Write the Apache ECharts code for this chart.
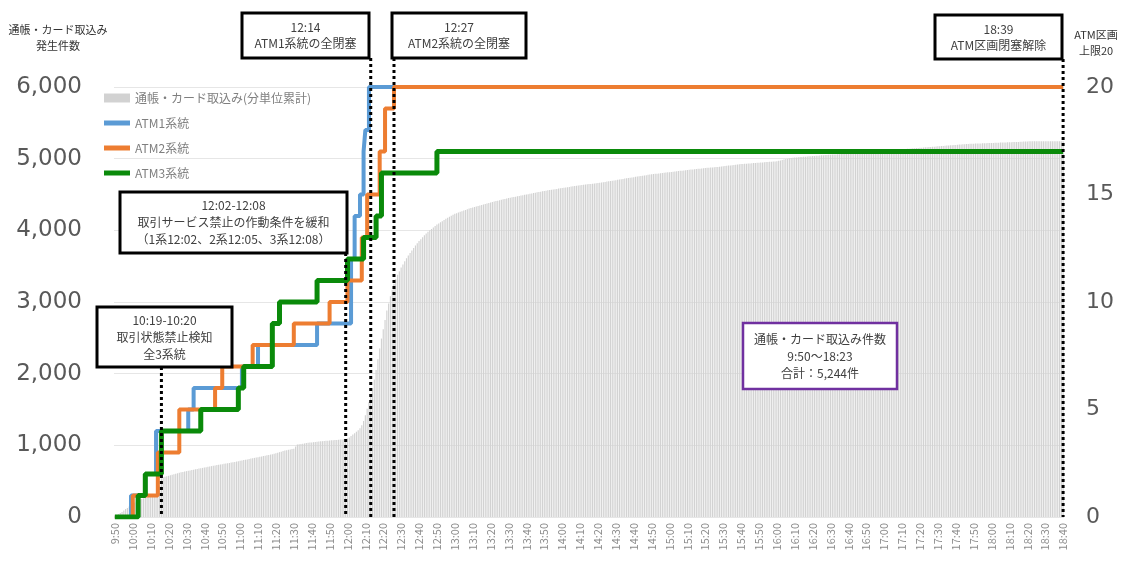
<!DOCTYPE html>
<html><head><meta charset="utf-8">
<script src="https://cdn.jsdelivr.net/npm/echarts@6/dist/echarts.min.js"></script>
<style>html,body{margin:0;padding:0;background:#fff}#c{width:1128px;height:562px}</style>
</head><body><div id="c"></div>
<script>
// ---- data ----
// category labels: one per minute from 9:50 to 18:40
const startMinute = 9 * 60 + 50, endMinute = 18 * 60 + 40;
const categories = [];
for (let t = startMinute; t <= endMinute; t++) categories.push(Math.floor(t / 60) + ':' + String(t % 60).padStart(2, '0'));

// cumulative count of passbook/card retentions per minute
const cumulativeCount = [
  10, 25, 40, 55, 70, 90, 110, 125, 145, 165,
  185, 200, 215, 225, 240, 250, 260, 268, 275, 280,
  285, 295, 305, 320, 350, 430, 540, 555, 562, 568,
  575, 582, 590, 596, 602, 610, 617, 623, 628, 634,
  640, 645, 650, 656, 661, 666, 671, 676, 681, 685,
  690, 695, 700, 705, 710, 714, 719, 724, 728, 733,
  737, 742, 746, 751, 755, 760, 764, 769, 774, 779,
  784, 789, 794, 799, 804, 810, 815, 820, 825, 830,
  835, 840, 845, 851, 856, 861, 866, 871, 877, 884,
  890, 897, 905, 912, 920, 927, 933, 938, 943, 948,
  953, 985, 1010, 1015, 1019, 1023, 1027, 1031, 1035, 1038,
  1041, 1044, 1047, 1050, 1053, 1056, 1058, 1061, 1063, 1065,
  1067, 1070, 1072, 1074, 1076, 1078, 1080, 1082, 1084, 1087,
  1095, 1110, 1130, 1150, 1170, 1190, 1210, 1240, 1280, 1340,
  1420, 1510, 1600, 1700, 1800, 1920, 2050, 2200, 2350, 2490,
  2620, 2750, 2880, 2980, 3080, 3170, 3250, 3320, 3380, 3430,
  3480, 3525, 3570, 3610, 3650, 3685, 3720, 3755, 3790, 3820,
  3850, 3877, 3903, 3930, 3955, 3980, 4000, 4020, 4040, 4060,
  4080, 4096, 4112, 4128, 4144, 4160, 4174, 4188, 4202, 4216,
  4230, 4240, 4249, 4258, 4267, 4276, 4285, 4294, 4303, 4312,
  4320, 4327, 4334, 4341, 4348, 4355, 4362, 4369, 4376, 4383,
  4390, 4396, 4402, 4408, 4414, 4420, 4426, 4432, 4438, 4444,
  4450, 4455, 4460, 4465, 4470, 4475, 4480, 4485, 4490, 4495,
  4500, 4505, 4510, 4515, 4520, 4525, 4530, 4535, 4540, 4545,
  4550, 4554, 4558, 4562, 4566, 4570, 4574, 4578, 4582, 4586,
  4590, 4594, 4598, 4602, 4606, 4610, 4614, 4618, 4622, 4626,
  4630, 4633, 4636, 4639, 4642, 4645, 4648, 4651, 4654, 4657,
  4660, 4664, 4668, 4672, 4676, 4680, 4684, 4688, 4692, 4696,
  4700, 4705, 4710, 4714, 4718, 4722, 4726, 4730, 4734, 4738,
  4742, 4746, 4750, 4754, 4758, 4762, 4766, 4770, 4774, 4778,
  4782, 4785, 4788, 4791, 4794, 4797, 4800, 4803, 4806, 4809,
  4812, 4815, 4818, 4821, 4824, 4827, 4830, 4833, 4836, 4839,
  4842, 4845, 4848, 4850, 4852, 4855, 4858, 4861, 4864, 4867,
  4870, 4872, 4874, 4876, 4878, 4880, 4882, 4885, 4888, 4891,
  4894, 4897, 4900, 4903, 4906, 4909, 4912, 4915, 4918, 4921,
  4924, 4926, 4928, 4930, 4932, 4934, 4936, 4938, 4940, 4942,
  4944, 4946, 4948, 4950, 4952, 4954, 4956, 4958, 4960, 4962,
  4964, 4970, 4976, 4982, 4988, 4994, 5000, 5005, 5010, 5013,
  5016, 5018, 5020, 5022, 5024, 5026, 5028, 5030, 5032, 5034,
  5036, 5038, 5040, 5042, 5044, 5046, 5048, 5050, 5052, 5054,
  5056, 5057, 5058, 5059, 5060, 5062, 5064, 5066, 5068, 5070,
  5072, 5074, 5076, 5078, 5080, 5082, 5084, 5086, 5088, 5090,
  5092, 5094, 5096, 5098, 5100, 5102, 5104, 5106, 5108, 5110,
  5112, 5114, 5116, 5118, 5120, 5122, 5124, 5126, 5128, 5130,
  5132, 5134, 5136, 5138, 5140, 5142, 5144, 5146, 5148, 5150,
  5152, 5154, 5156, 5158, 5160, 5162, 5164, 5166, 5168, 5170,
  5172, 5174, 5176, 5178, 5180, 5182, 5184, 5186, 5188, 5190,
  5192, 5194, 5196, 5198, 5200, 5202, 5204, 5206, 5207, 5208,
  5209, 5210, 5211, 5212, 5213, 5214, 5215, 5216, 5217, 5218,
  5219, 5220, 5221, 5222, 5223, 5224, 5225, 5226, 5227, 5228,
  5229, 5230, 5231, 5232, 5233, 5234, 5235, 5236, 5238, 5240,
  5241, 5242, 5243, 5244, 5244, 5244, 5244, 5244, 5244, 5244,
  5244, 5244, 5244, 5244, 5244, 5244, 5244, 5244, 5244, 5244,
  5244
];

// number of blocked ATM sections per system (change points, held until next point)
const atm1Steps = [['9:50',0],['9:59',1],['10:07',2],['10:13',4],['10:31',5],['10:34',6],['11:01',7],['11:10',8],['11:43',9],['12:02',12],['12:04',14],['12:07',15],['12:09',17],['12:10',18],['12:12',20],['18:40',20]];
const atm2Steps = [['9:50',0],['10:00',1],['10:14',3],['10:26',5],['10:46',6],['10:50',7],['11:07',8],['11:30',9],['11:50',10],['12:00',11],['12:08',13],['12:11',15],['12:18',17],['12:21',19],['12:26',20],['18:40',20]];
const atm3Steps = [['9:50',0],['10:03',1],['10:07',2],['10:16',4],['10:38',5],['10:59',6],['11:02',7],['11:18',9],['11:22',10],['11:43',11],['12:00',12],['12:09',13],['12:16',14],['12:19',16],['12:50',17],['18:40',17]];

const seriesNames = ['通帳・カード取込み(分単位累計)', 'ATM1系統', 'ATM2系統', 'ATM3系統'];
const leftTicks = [0, 1000, 2000, 3000, 4000, 5000, 6000];
const rightTicks = [0, 5, 10, 15, 20];

// annotation texts and the minute each dotted line marks
const notes = {
  atm1: '12:14\nATM1系統の全閉塞',
  atm2: '12:27\nATM2系統の全閉塞',
  release: '18:39\nATM区画閉塞解除',
  relax: '12:02-12:08\n取引サービス禁止の作動条件を緩和\n（1系12:02、2系12:05、3系12:08）',
  detect: '10:19-10:20\n取引状態禁止検知\n全3系統',
  total: '通帳・カード取込み件数\n9:50～18:23\n合計：5,244件'
};
const lineTimes = { detect: '10:16', relax: '11:59', atm1: '12:13', atm2: '12:26', release: '18:40' };

// ---- chart ----
const FONT = '"Noto Sans CJK JP", "Noto Sans", sans-serif';
const NUMFONT = '"DejaVu Sans", sans-serif';
const lineIcon = 'path://M0 0H26V5H0Z';
const chart = echarts.init(document.getElementById('c'));
const option = {
  animation: false,
  textStyle: { fontFamily: FONT },
  grid: { left: 114, right: 64, top: 87, bottom: 45 },
  legend: {
    orient: 'vertical', left: 104, top: 92, itemGap: 13, padding: 0,
    itemWidth: 26, itemHeight: 9,
    textStyle: { color: '#7f7f7f', fontSize: 12, fontFamily: FONT },
    data: [
      { name: seriesNames[0], icon: 'rect' },
      { name: seriesNames[1], icon: lineIcon },
      { name: seriesNames[2], icon: lineIcon },
      { name: seriesNames[3], icon: lineIcon }
    ]
  },
  xAxis: {
    type: 'category', data: categories, boundaryGap: true,
    axisLine: { show: false }, axisTick: { show: false },
    axisLabel: { interval: 9, rotate: 90, fontSize: 11, color: '#8c8c8c', margin: 6, fontFamily: FONT }
  },
  yAxis: [
    { type: 'value', min: 0, max: 6000, interval: 1000,
      axisLine: { show: false }, axisTick: { show: false },
      splitLine: { lineStyle: { color: '#e6e6e6', width: 1 } },
      axisLabel: { fontSize: 23, color: '#595959', margin: 32, fontFamily: NUMFONT,
        formatter: v => leftTicks.includes(v) ? v.toLocaleString('en-US') : '' } },
    { type: 'value', min: 0, max: 20, interval: 5,
      axisLine: { show: false }, axisTick: { show: false }, splitLine: { show: false },
      axisLabel: { fontSize: 22, color: '#595959', margin: 22, fontFamily: NUMFONT,
        formatter: v => rightTicks.includes(v) ? String(v) : '' } }
  ],
  series: [
    { name: seriesNames[0], type: 'bar', data: cumulativeCount, yAxisIndex: 0,
      itemStyle: { color: '#d2d2d2' }, barCategoryGap: '35%', z: 1 },
    { name: seriesNames[1], type: 'line', step: 'end', data: atm1Steps, yAxisIndex: 1,
      symbol: 'none', lineStyle: { color: '#5b9bd5', width: 4 }, itemStyle: { color: '#5b9bd5' }, z: 3 },
    { name: seriesNames[2], type: 'line', step: 'end', data: atm2Steps, yAxisIndex: 1,
      symbol: 'none', lineStyle: { color: '#ed7d31', width: 4 }, itemStyle: { color: '#ed7d31' }, z: 4 },
    { name: seriesNames[3], type: 'line', step: 'end', data: atm3Steps, yAxisIndex: 1,
      symbol: 'none', lineStyle: { color: '#0a8a0a', width: 5 }, itemStyle: { color: '#0a8a0a' }, z: 5 }
  ]
};
chart.setOption(option);

// ---- annotations (boxes + dotted event lines placed via the chart's own scales) ----
function box(x, y, w, h, text, stroke, lw, lh) {
  return [
    { type: 'rect', z: 200, shape: { x: x, y: y, width: w, height: h },
      style: { fill: '#fff', stroke: stroke, lineWidth: lw } },
    { type: 'text', z: 201, x: x + w / 2, y: y + h / 2,
      style: { text: text, fill: '#404040', font: '12px ' + FONT, align: 'center',
        verticalAlign: 'middle', lineHeight: lh } }
  ];
}
const yZero = chart.convertToPixel({ yAxisIndex: 0 }, 0);
function dotted(cat, top) {
  const x = chart.convertToPixel({ xAxisIndex: 0 }, cat);
  return { type: 'line', z: 150, shape: { x1: x, y1: top, x2: x, y2: yZero },
    style: { stroke: '#000', lineWidth: 3, lineDash: [3, 3] } };
}
chart.setOption({
  graphic: [
    dotted(lineTimes.detect, 367),
    dotted(lineTimes.relax, 253),
    dotted(lineTimes.atm1, 58),
    dotted(lineTimes.atm2, 58),
    dotted(lineTimes.release, 59),
    ...box(242, 13, 127, 45, notes.atm1, '#000', 3, 16),
    ...box(392, 13, 134, 45, notes.atm2, '#000', 3, 16),
    ...box(935, 15, 127, 44, notes.release, '#000', 3, 16),
    ...box(120, 192, 227, 61, notes.relax, '#000', 3, 17),
    ...box(97, 307, 135, 60, notes.detect, '#000', 3, 17),
    ...box(743, 323, 154, 66, notes.total, '#7030a0', 2.5, 17),
    { type: 'text', x: 58, y: 38, z: 200,
      style: { text: '通帳・カード取込み\n発生件数', fill: '#333', font: '11px ' + FONT,
        align: 'center', verticalAlign: 'middle', lineHeight: 16 } },
    { type: 'text', x: 1096, y: 43, z: 200,
      style: { text: 'ATM区画\n上限20', fill: '#333', font: '11px ' + FONT,
        align: 'center', verticalAlign: 'middle', lineHeight: 16 } }
  ]
});
</script></body></html>
